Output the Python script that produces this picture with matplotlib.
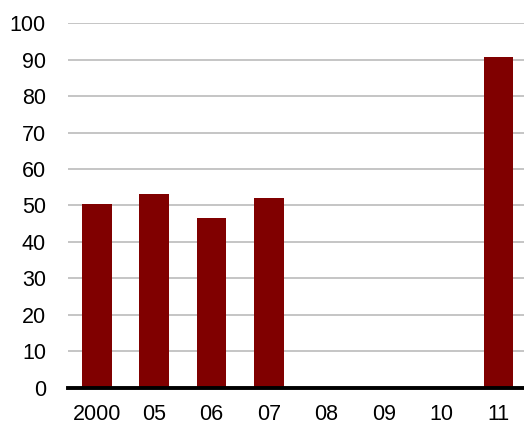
import numpy as np
import matplotlib.pyplot as plt

plt.rcParams['font.family'] = ['Liberation Sans', 'DejaVu Sans']

# data
labels = ["2000", "05", "06", "07", "08", "09", "10", "11"]
values = [50.3, 53.1, 46.5, 52.0, np.nan, np.nan, np.nan, 90.8]
yticks = [0, 10, 20, 30, 40, 50, 60, 70, 80, 90, 100]

fig = plt.figure(figsize=(5.24, 4.28), dpi=100)
ax = fig.add_axes([0.130, 0.094, 0.876, 0.852])

x = np.arange(len(labels))
ax.bar(x, values, width=0.52, color="#800000", zorder=3)

ax.set_xlim(-0.5, len(labels) - 0.5)
ax.set_ylim(0, 100)
ax.set_yticks(yticks)
ax.set_xticks(x)
ax.set_xticklabels(labels)

ax.grid(axis="y", color="#c0c0c0", linewidth=1.3, zorder=0)
ax.set_axisbelow(True)
for s in ["top", "right", "left"]:
    ax.spines[s].set_visible(False)
ax.spines["bottom"].set_linewidth(2.8)
ax.spines["bottom"].set_color("black")
ax.spines["bottom"].set_zorder(4)
ax.spines["bottom"].set_clip_on(False)

ax.tick_params(axis="both", length=0, labelsize=15.5, colors="black")
ax.tick_params(axis="y", pad=16)
ax.tick_params(axis="x", pad=12)

fig.savefig("out.png", dpi=100)
